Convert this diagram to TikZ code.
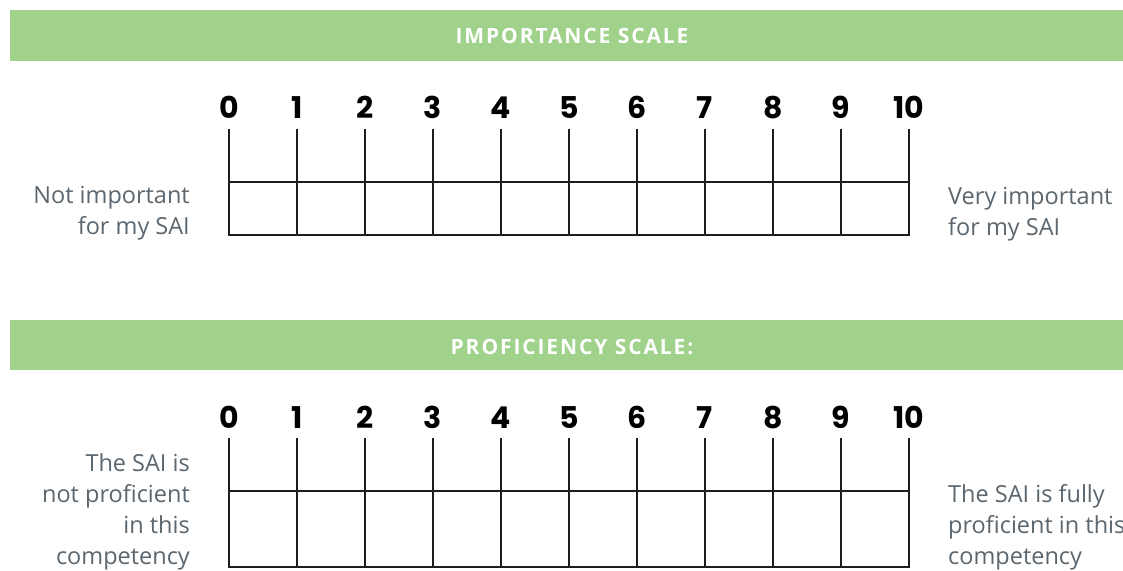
\documentclass[tikz,border=0pt]{standalone}
\usepackage{fontspec}
\setmainfont{Open Sans}
\newfontfamily\numfont{Poppins}
\newfontfamily\headfont[LetterSpace=9]{Open Sans}
\definecolor{bargreen}{HTML}{A0D28C}
\definecolor{labelgray}{HTML}{5C666E}
\definecolor{gridline}{HTML}{1E1E1E}
\begin{document}
\begin{tikzpicture}[x=1pt,y=-1pt,
  bar/.style={fill=bargreen,draw=none},
  headtxt/.style={text=white,font=\headfont\bfseries\fontsize{21}{24}\selectfont,anchor=base,inner sep=0pt},
  numtxt/.style={text=black,font=\numfont\bfseries\fontsize{30}{34}\selectfont,anchor=base,inner sep=0pt},
  lefttxt/.style={text=labelgray,font=\fontsize{23.5}{30.7}\selectfont,align=right,anchor=base east,inner sep=0pt},
  righttxt/.style={text=labelgray,font=\fontsize{23.5}{30.7}\selectfont,align=left,anchor=base west,inner sep=0pt},
  gridl/.style={draw=gridline,line width=1.3pt}]
\useasboundingbox (0,0) rectangle (1123,570);
\fill[white] (0,0) rectangle (1123,570);
% header bars
\path[bar] (10,10) rectangle (1130,61);
\node[headtxt] (h1) at (572,43) {IMPORTANCE SCALE};
\path[bar] (10,320) rectangle (1130,370);
\node[headtxt] (h2) at (572,354) {PROFICIENCY SCALE:};
% numbers
\foreach \i in {0,...,10} {
  \node[numtxt] (a\i) at (229+68*\i,118) {\i};
  \node[numtxt] (b\i) at (229+68*\i,428) {\i};
}
% grid 1
\foreach \i in {0,...,10} {
  \draw[gridl] (229+68*\i,129) -- (229+68*\i,235);
}
\draw[gridl] (229,182) -- (909,182);
\draw[gridl] (228.35,235) -- (909.65,235);
% grid 2
\foreach \i in {0,...,10} {
  \draw[gridl] (229+68*\i,438) -- (229+68*\i,567);
}
\draw[gridl] (229,491) -- (909,491);
\draw[gridl] (228.35,567) -- (909.65,567);
% labels (positioned at the baseline of their last line)
\node[lefttxt] (l1) at (190,234) {Not important\\for my SAI};
\node[righttxt] (r1) at (948,235) {Very important\\for my SAI};
\node[lefttxt] (l2) at (190,564) {The SAI is\\not proficient\\in this\\competency};
\node[righttxt] (r2) at (948,564) {The SAI is fully\\proficient in this\\competency};
\end{tikzpicture}
\end{document}
